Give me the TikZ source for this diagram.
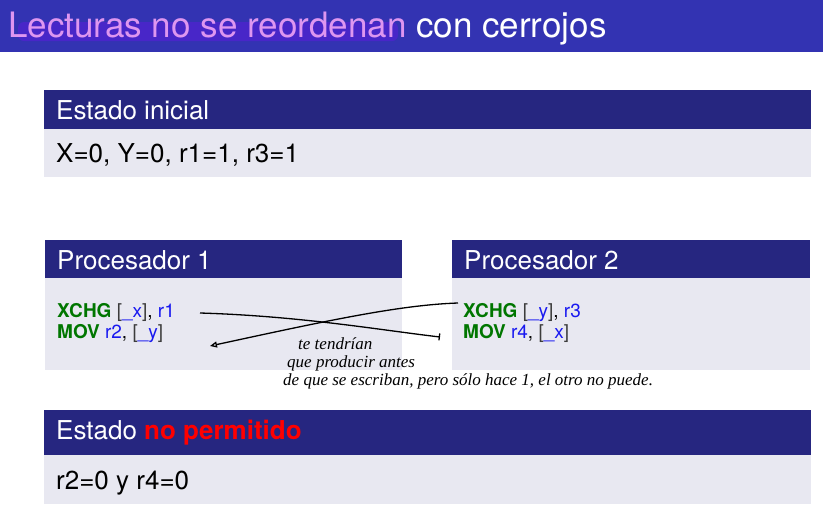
\documentclass[tikz,border=0pt]{standalone}
\usepackage{fontspec}
\setmainfont{TeX Gyre Heros}
\newfontfamily\handfont{Liberation Serif}
\usetikzlibrary{arrows.meta}
\definecolor{barblue}{RGB}{51,51,178}
\definecolor{hdrblue}{RGB}{38,38,128}
\definecolor{bodygray}{RGB}{232,232,241}
\definecolor{codegreen}{RGB}{0,118,0}
\definecolor{codeblue}{RGB}{25,25,240}
\definecolor{codegray}{RGB}{60,60,60}
\definecolor{hlpurple}{RGB}{72,38,200}
\definecolor{hlpink}{RGB}{222,150,240}
\newcommand\cdkw[1]{\textbf{\textcolor{codegreen}{#1}}}
\newcommand\cdrg[1]{\textcolor{codeblue}{#1}}
\newcommand\cdbr[1]{\textcolor{codegray}{#1}}
\begin{document}
\begin{tikzpicture}[x=1pt,y=-1pt,
 ttl/.style={anchor=base west, inner sep=0pt, font=\fontsize{35}{40}\selectfont},
 btitle/.style={anchor=base west, inner sep=0pt, text=white, font=\fontsize{26}{30}\selectfont},
 btext/.style={anchor=base west, inner sep=0pt, text=black, font=\fontsize{26}{30}\selectfont},
 code/.style={anchor=base west, inner sep=0pt, font=\fontsize{19}{22}\selectfont},
 handtext/.style={anchor=base west, inner sep=0pt, font=\handfont\itshape\fontsize{17}{19}\selectfont},
 pen/.style={line width=1.3pt, black},
 hdr/.style={fill=hdrblue},
 bdy/.style={fill=bodygray},
]
\useasboundingbox (0,0) rectangle (823,512);
\fill[white] (0,0) rectangle (823,512);
% title bar
\fill[barblue] (0,0) rectangle (823,52);
\fill[hlpurple, rounded corners=6pt] (18,22) rectangle (398,41);
\node[ttl] (title) at (8,37) {\textcolor{hlpink}{Lecturas no se reordenan} \textcolor{white}{con cerrojos}};
% Estado inicial
\fill[hdr] (44,90) rectangle (811,129);
\fill[bdy] (44,129) rectangle (811,177);
\node[btitle] (t1) at (56,119) {Estado inicial};
\node[btext] (s1) at (56,162) {X=0, Y=0, r1=1, r3=1};
% Procesador 1
\fill[hdr] (45,240) rectangle (402,278);
\fill[bdy] (45,278) rectangle (402,370);
\node[btitle] (p1) at (57,269) {Procesador 1};
\node[code] (c1a) at (57,317) {\cdkw{XCHG} \cdbr{[}\cdrg{\_x}\cdbr{]}, \cdrg{r1}};
\node[code] (c1b) at (57,338) {\cdkw{MOV} \cdrg{r2}, \cdbr{[}\cdrg{\_y}\cdbr{]}};
% Procesador 2
\fill[hdr] (452,240) rectangle (810,278);
\fill[bdy] (452,278) rectangle (810,370);
\node[btitle] (p2) at (464,269) {Procesador 2};
\node[code] (c2a) at (463,317) {\cdkw{XCHG} \cdbr{[}\cdrg{\_y}\cdbr{]}, \cdrg{r3}};
\node[code] (c2b) at (463,338) {\cdkw{MOV} \cdrg{r4}, \cdbr{[}\cdrg{\_x}\cdbr{]}};
% Estado no permitido
\fill[hdr] (44,410) rectangle (811,455);
\fill[bdy] (44,455) rectangle (811,504);
\node[btitle] (t3) at (56,439) {Estado \textbf{\textcolor{red}{no permitido}}};
\node[btext] (s3) at (56,489) {r2=0 y r4=0};
% hand-drawn arrows
\coordinate (a1s) at (200,313);
\coordinate (a1e) at (440,337);
\coordinate (a2s) at (458,303);
\coordinate (a2e) at (210,346);
\draw[pen, -{Bar[width=7pt]}] (a1s) .. controls (300,316) and (380,330) .. (a1e);
\draw[pen, -{Triangle[open,length=7pt,width=6pt]}] (a2s) .. controls (400,305) and (330,320) .. (a2e);
% handwritten note
\node[handtext] (h1) at (298,349) {te tendrían};
\node[handtext] (h2) at (287,367) {que producir antes};
\node[handtext] (h3) at (283,385) {de que se escriban, pero sólo hace 1, el otro no puede.};
\end{tikzpicture}
\end{document}
